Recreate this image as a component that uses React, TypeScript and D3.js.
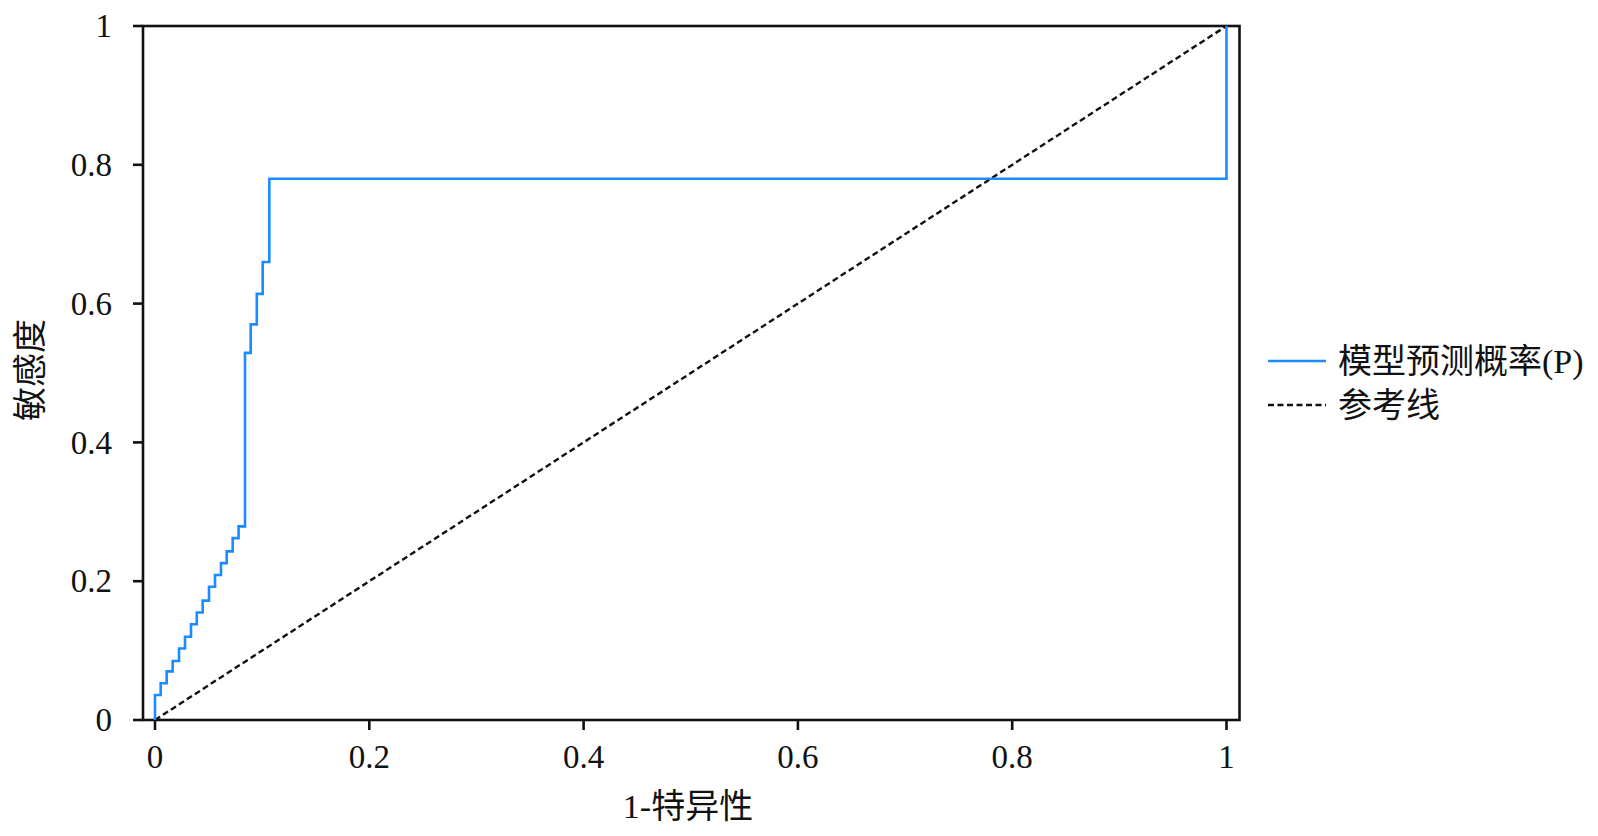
import React, { useEffect, useRef } from 'react'
import * as d3 from 'd3'

// ROC curve corner points (1 - specificity, sensitivity)
const fpr = [0, 0, 0.0053, 0.0109, 0.0165, 0.0224, 0.028, 0.0336, 0.039, 0.0445, 0.0504, 0.056, 0.0616, 0.0669, 0.0725, 0.078, 0.084, 0.0893, 0.095, 0.1005, 0.1067, 1, 1]
const tpr = [0, 0.036, 0.053, 0.07, 0.085, 0.103, 0.12, 0.138, 0.155, 0.172, 0.192, 0.209, 0.226, 0.243, 0.262, 0.279, 0.529, 0.57, 0.614, 0.66, 0.78, 0.78, 1]
const refLine = [0, 1]
const ticks = [0, 0.2, 0.4, 0.6, 0.8, 1]
const seriesNames = ['模型预测概率(P)', '参考线']
const xTitle = '1-特异性'
const yTitle = '敏感度'

const W = 1598
const H = 836
const FONT = '"Liberation Serif", "Times New Roman", "Noto Sans CJK SC", serif'
const BLUE = '#1a8cff'

const App = () => {
  const svgRef = useRef(null)

  useEffect(() => {
    const svg = d3.select(svgRef.current)
    svg.selectAll('*').remove()

    const x = d3.scaleLinear().domain([0, 1]).range([155, 1226.5])
    const y = d3.scaleLinear().domain([0, 1]).range([720, 26])
    const frame = { left: 143, right: 1239.5, top: 26, bottom: 720 }

    // frame
    svg
      .append('rect')
      .attr('x', frame.left)
      .attr('y', frame.top)
      .attr('width', frame.right - frame.left)
      .attr('height', frame.bottom - frame.top)
      .attr('fill', 'none')
      .attr('stroke', '#111')
      .attr('stroke-width', 2.6)

    // y axis
    const yAxis = svg.append('g').attr('transform', `translate(${frame.left},0)`)
    yAxis
      .selectAll('line')
      .data(ticks)
      .enter()
      .append('line')
      .attr('x1', -10)
      .attr('x2', 0)
      .attr('y1', (d) => y(d))
      .attr('y2', (d) => y(d))
      .attr('stroke', '#111')
      .attr('stroke-width', 2.6)
    yAxis
      .selectAll('text')
      .data(ticks)
      .enter()
      .append('text')
      .attr('x', -31)
      .attr('y', (d) => y(d))
      .attr('dy', '0.34em')
      .attr('text-anchor', 'end')
      .attr('font-family', FONT)
      .attr('font-size', 33)
      .attr('fill', '#111')
      .text((d) => d3.format('~g')(d))

    // x axis
    const xAxis = svg.append('g').attr('transform', `translate(0,${frame.bottom})`)
    xAxis
      .selectAll('line')
      .data(ticks)
      .enter()
      .append('line')
      .attr('x1', (d) => x(d))
      .attr('x2', (d) => x(d))
      .attr('y1', 0)
      .attr('y2', 10)
      .attr('stroke', '#111')
      .attr('stroke-width', 2.6)
    xAxis
      .selectAll('text')
      .data(ticks)
      .enter()
      .append('text')
      .attr('x', (d) => x(d))
      .attr('y', 48)
      .attr('text-anchor', 'middle')
      .attr('font-family', FONT)
      .attr('font-size', 33)
      .attr('fill', '#111')
      .text((d) => d3.format('~g')(d))

    // reference line
    svg
      .append('line')
      .attr('x1', x(refLine[0]))
      .attr('y1', y(refLine[0]))
      .attr('x2', x(refLine[1]))
      .attr('y2', y(refLine[1]))
      .attr('stroke', '#111')
      .attr('stroke-width', 2.4)
      .attr('stroke-dasharray', '6,3.5')

    // ROC curve
    const pts = fpr.map((f, i) => [f, tpr[i]])
    const line = d3
      .line()
      .x((d) => x(d[0]))
      .y((d) => y(d[1]))
      .curve(d3.curveStepAfter)
    svg
      .append('path')
      .attr('d', line(pts))
      .attr('fill', 'none')
      .attr('stroke', BLUE)
      .attr('stroke-width', 2.6)

    // axis titles
    svg
      .append('text')
      .attr('x', 688)
      .attr('y', 818)
      .attr('text-anchor', 'middle')
      .attr('font-family', FONT)
      .attr('font-size', 34)
      .attr('fill', '#111')
      .text(xTitle)
    svg
      .append('text')
      .attr('transform', 'translate(42,370) rotate(-90)')
      .attr('text-anchor', 'middle')
      .attr('font-family', FONT)
      .attr('font-size', 34)
      .attr('fill', '#111')
      .text(yTitle)

    // legend
    const legend = svg.append('g').attr('transform', 'translate(1268,361)')
    const styles = [
      { stroke: BLUE, dash: null, width: 2.6 },
      { stroke: '#111', dash: '6,3.5', width: 2.4 },
    ]
    seriesNames.forEach((name, i) => {
      const g = legend.append('g').attr('transform', `translate(0,${i * 44})`)
      g.append('line')
        .attr('x1', 0)
        .attr('x2', 58)
        .attr('y1', 0)
        .attr('y2', 0)
        .attr('stroke', styles[i].stroke)
        .attr('stroke-width', styles[i].width)
        .attr('stroke-dasharray', styles[i].dash)
      g.append('text')
        .attr('x', 70)
        .attr('y', 0)
        .attr('dy', '0.36em')
        .attr('font-family', FONT)
        .attr('font-size', 34)
        .attr('fill', '#111')
        .text(name)
    })
  }, [])

  return (
    <svg
      ref={svgRef}
      width={W}
      height={H}
      style={{ position: 'absolute', left: 0, top: 0, background: '#fff' }}
    />
  )
}

export default App
